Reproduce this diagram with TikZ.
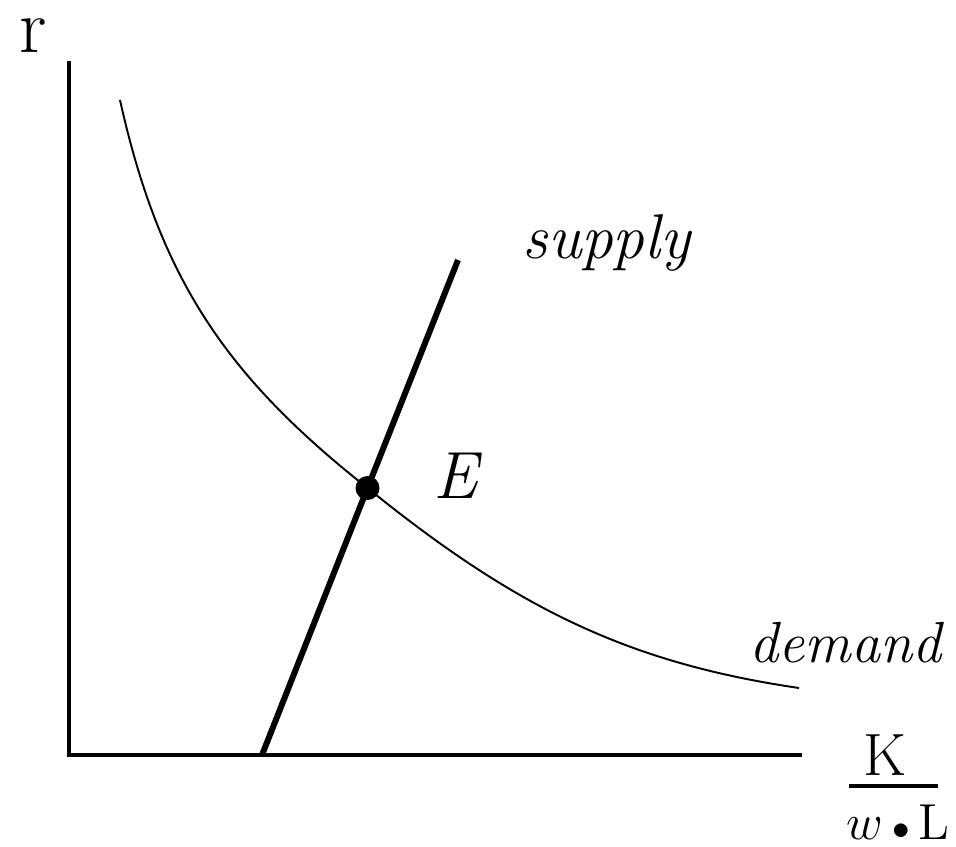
\documentclass[tikz,border=0pt]{standalone}
\begin{document}
\begin{tikzpicture}[x=1cm,y=-1cm,
  axis/.style={line width=1.1pt},
  supplyline/.style={line width=1.7pt},
  demandcurve/.style={line width=0.55pt},
  lbl/.style={inner sep=0pt, font=\fontsize{16}{18}\selectfont\itshape}]
\useasboundingbox (0,0) rectangle (9.56,8.46);
% axes
\coordinate (ytop) at (0.69,0.61);
\coordinate (orig) at (0.69,7.55);
\coordinate (xend) at (8.02,7.55);
\draw[axis] (ytop) -- (orig) -- (xend);
% equilibrium point
\node[circle, fill=black, minimum size=0.24cm, inner sep=0pt] (E) at (3.675,4.88) {};
% demand curve
\coordinate (d0) at (1.20,1.00);
\coordinate (d1) at (7.99,6.88);
\draw[demandcurve] (d0) .. controls (1.60,2.80) and (2.27,3.77) .. (E.center)
  .. controls (5.17,6.09) and (6.29,6.63) .. (d1);
% supply line
\coordinate (s0) at (2.62,7.55);
\coordinate (s1) at (4.58,2.60);
\draw[supplyline] (s0) -- (E.center) -- (s1);
% labels
\node[inner sep=0pt, font=\fontsize{22}{24}\selectfont] (r) at (0.33,0.36) {r};
\node[lbl, font=\fontsize{19}{21}\selectfont\itshape] (Elab) at (4.56,4.76) {E};
\node[lbl, font=\fontsize{18}{20}\selectfont\itshape, anchor=base west] (sup) at (5.22,2.58) {supply};
\node[lbl, font=\fontsize{16.5}{19}\selectfont\itshape, anchor=base west] (dem) at (7.49,6.62) {demand};
% K / (w . L)
\node[inner sep=0pt, font=\fontsize{17}{19}\selectfont] (K) at (8.85,7.55) {K};
\coordinate (bl) at (8.49,7.86);
\coordinate (br) at (9.38,7.86);
\draw[line width=0.9pt] (bl) -- (br);
\node[inner sep=0pt, font=\fontsize{14.5}{16}\selectfont] (wL) at (8.98,8.22)
  {$w\,{\scriptstyle\bullet}\,\mathrm{L}$};
\end{tikzpicture}
\end{document}
